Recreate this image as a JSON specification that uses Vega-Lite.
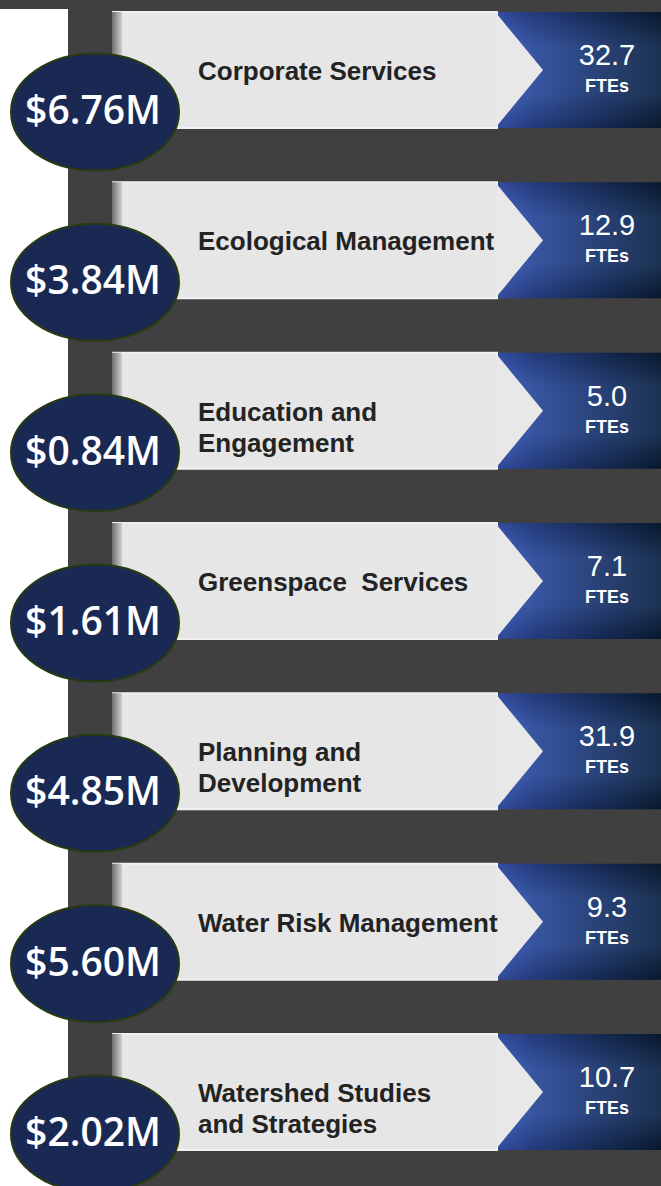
{
  "$schema": "https://vega.github.io/schema/vega-lite/v6.json",
  "width": 661,
  "height": 1186,
  "padding": 0,
  "autosize": {"type": "none"},
  "background": "#404040",
  "config": {"view": {"stroke": null}},
  "resolve": {"scale": {"y": "independent"}},
  "layer": [
    {
      "data": {"values": [{"part": "margin"}]},
      "mark": {"type": "rect", "color": "#ffffff"},
      "encoding": {
        "x": {"datum": 0, "type": "quantitative", "axis": null, "scale": {"domain": [0, 661], "nice": false, "zero": false}},
        "x2": {"datum": 68},
        "y": {"datum": 9, "type": "quantitative", "axis": null, "scale": {"domain": [0, 1186], "range": [0, 1186], "nice": false, "zero": false}},
        "y2": {"datum": 1186}
      }
    },
    {
      "data": {
        "values": [
          {"label": "Corporate Services", "budget": "$6.76M", "fte": 32.7},
          {"label": "Ecological Management", "budget": "$3.84M", "fte": 12.9},
          {"label": "Education and\nEngagement", "budget": "$0.84M", "fte": 5.0},
          {"label": "Greenspace \u00a0Services", "budget": "$1.61M", "fte": 7.1},
          {"label": "Planning and\nDevelopment", "budget": "$4.85M", "fte": 31.9},
          {"label": "Water Risk Management", "budget": "$5.60M", "fte": 9.3},
          {"label": "Watershed Studies\nand Strategies", "budget": "$2.02M", "fte": 10.7}
        ]
      },
      "encoding": {
        "y": {"field": "label", "type": "nominal", "sort": null, "axis": null,
              "scale": {"type": "band", "range": [12, 1150], "paddingInner": 0.319, "paddingOuter": 0}}
      },
      "layer": [
        {
          "mark": {"type": "rect", "color": {"gradient": "linear", "x1": 0, "y1": 0, "x2": 1, "y2": 0,
            "stops": [{"offset": 0, "color": "#3e5cc0"}, {"offset": 0.22, "color": "#2b4896"}, {"offset": 0.6, "color": "#1a3266"}, {"offset": 1, "color": "#0a1e36"}]}},
          "encoding": {"x": {"datum": 497, "type": "quantitative"}, "x2": {"datum": 661}}
        },
        {
          "mark": {"type": "rect", "opacity": 0.18, "color": {"gradient": "linear", "x1": 0, "y1": 0, "x2": 0, "y2": 1,
            "stops": [{"offset": 0, "color": "#000000"}, {"offset": 0.3, "color": "#6f8fd0"}, {"offset": 0.7, "color": "#6f8fd0"}, {"offset": 1, "color": "#000000"}]}},
          "encoding": {"x": {"datum": 497, "type": "quantitative"}, "x2": {"datum": 661}}
        },
        {
          "mark": {"type": "rect", "color": "#e6e6e6", "stroke": "#f1f1f1", "strokeWidth": 2},
          "encoding": {"x": {"datum": 113, "type": "quantitative"}, "x2": {"datum": 497}}
        },
        {
          "mark": {"type": "rect", "color": {"gradient": "linear", "x1": 0, "y1": 0, "x2": 1, "y2": 0,
            "stops": [{"offset": 0, "color": "#6e6e6e"}, {"offset": 1, "color": "#cfcfcf"}]}},
          "encoding": {"x": {"datum": 112, "type": "quantitative"}, "x2": {"datum": 122}}
        },
        {
          "mark": {"type": "point", "shape": "M-0.03,-1L0.793,0L-0.03,1Z", "size": 13456, "filled": true, "color": "#e8e8e8", "opacity": 1, "strokeWidth": 0},
          "encoding": {"x": {"datum": 497, "type": "quantitative"}}
        },
        {
          "mark": {"type": "point",
            "shape": "M1,0C1,0.3844 0.5523,0.696 0,0.696C-0.5523,0.696 -1,0.3844 -1,0C-1,-0.3844 -0.5523,-0.696 0,-0.696C0.5523,-0.696 1,-0.3844 1,0Z",
            "size": 28224, "filled": true, "fill": "#1a2953", "stroke": "#283a10", "strokeWidth": 2, "opacity": 1, "yOffset": 42},
          "encoding": {"x": {"datum": 95, "type": "quantitative"}}
        },
        {
          "mark": {"type": "text", "font": "Open Sans", "fontSize": 39, "fontWeight": 600, "color": "#ffffff", "align": "center", "baseline": "middle", "yOffset": 42},
          "encoding": {"x": {"datum": 93, "type": "quantitative"}, "text": {"field": "budget"}}
        },
        {
          "mark": {"type": "text", "font": "Liberation Sans", "fontSize": 26, "fontWeight": "bold", "color": "#232323", "align": "left", "baseline": "middle", "lineBreak": "\n", "lineHeight": 31, "yOffset": 2},
          "encoding": {"x": {"datum": 198, "type": "quantitative"}, "text": {"field": "label"}}
        },
        {
          "mark": {"type": "text", "font": "Liberation Sans", "fontSize": 29, "fontWeight": "normal", "color": "#ffffff", "align": "center", "baseline": "middle", "yOffset": -14},
          "encoding": {"x": {"datum": 607, "type": "quantitative"}, "text": {"field": "fte", "format": ".1f"}}
        },
        {
          "mark": {"type": "text", "font": "Liberation Sans", "fontSize": 18, "fontWeight": "bold", "color": "#ffffff", "align": "center", "baseline": "middle", "yOffset": 17},
          "encoding": {"x": {"datum": 607, "type": "quantitative"}, "text": {"value": "FTEs"}}
        }
      ]
    }
  ]
}
